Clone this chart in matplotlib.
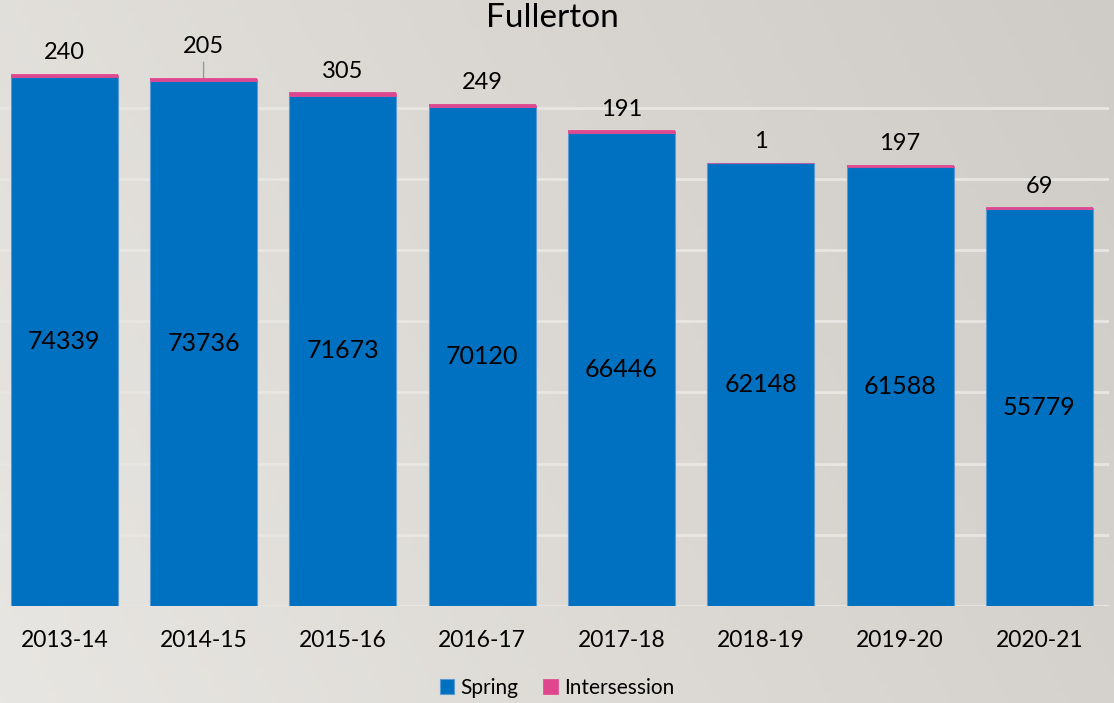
import matplotlib.pyplot as plt
import numpy as np

years = ["2013-14", "2014-15", "2015-16", "2016-17", "2017-18", "2018-19", "2019-20", "2020-21"]
spring = [74339, 73736, 71673, 70120, 66446, 62148, 61588, 55779]
intersession = [240, 205, 305, 249, 191, 1, 197, 69]

plt.rcParams['font.family'] = ['Lato', 'DejaVu Sans']

fig = plt.figure(figsize=(11.14, 7.03), dpi=100)

# background gradient (light grey, darker to the right)
bg = fig.add_axes([0, 0, 1, 1], zorder=-10)
xx = np.linspace(0, 1, 200)
yy = np.linspace(0, 1, 120)
X, Y = np.meshgrid(xx, yy)
t = 0.75 * X + 0.25 * (1 - Y)
c0 = np.array([232, 230, 226]) / 255
c1 = np.array([207, 203, 198]) / 255
img = c0[None, None, :] * (1 - t[..., None]) + c1[None, None, :] * t[..., None]
bg.imshow(img, aspect='auto', extent=[0, 1, 0, 1], origin='upper')
bg.axis('off')

ax = fig.add_axes([0, 97 / 703, 1109 / 1114, 606 / 703])
ax.patch.set_alpha(0)
x = np.arange(len(years))
w = 0.768
ax.bar(x, spring, w, color='#0070C0', edgecolor='#5B9BD5', linewidth=0.8, label='Spring', zorder=3)
ax.bar(x, intersession, w, bottom=spring, color='#E0468E', edgecolor='#E0468E', linewidth=0.5,
       label='Intersession', zorder=3)
# pink caps are too thin to see at true scale; draw a thin line on top
for i in range(len(years)):
    if intersession[i] > 10:
        ax.plot([x[i] - w / 2, x[i] + w / 2], [spring[i] + intersession[i]] * 2,
                color='#E0468E', lw=1.3, zorder=4, solid_capstyle='butt')

ax.set_xlim(-0.4616, 7.5)
ax.set_ylim(0, 85100)
ax.set_yticks(np.arange(0, 70001, 10000))
ax.yaxis.grid(True, color='#E8E6E3', lw=2, zorder=0)
ax.tick_params(axis='y', left=False, labelleft=False)
ax.tick_params(axis='x', bottom=False, pad=14, labelsize=16.5)
ax.set_xticks(x)
ax.set_xticklabels(years)
for s in ax.spines.values():
    s.set_visible(False)

for i in range(len(years)):
    ax.text(x[i], spring[i] / 2, str(spring[i]), ha='center', va='center', fontsize=18, zorder=5)
    top = spring[i] + intersession[i]
    if i == 1:
        ax.annotate(str(intersession[i]), xy=(x[i], top), xytext=(0, 24), textcoords='offset points',
                    ha='center', va='center', fontsize=17,
                    arrowprops=dict(arrowstyle='-', color='#9A9A9A', lw=1, shrinkA=2, shrinkB=0,
                                    connectionstyle='arc3'))
    else:
        ax.annotate(str(intersession[i]), xy=(x[i], top), xytext=(0, 16), textcoords='offset points',
                    ha='center', va='center', fontsize=17)

fig.text(0.496, 1 - 18 / 703, "Fullerton", ha='center', va='center', fontsize=24)

leg = fig.legend(loc='center', bbox_to_anchor=(0.5, 1 - 688 / 703), ncol=2, frameon=False,
                 fontsize=15, handlelength=0.7, handleheight=0.7, handletextpad=0.3, columnspacing=1.2)

fig.savefig("out.png", dpi=100)
